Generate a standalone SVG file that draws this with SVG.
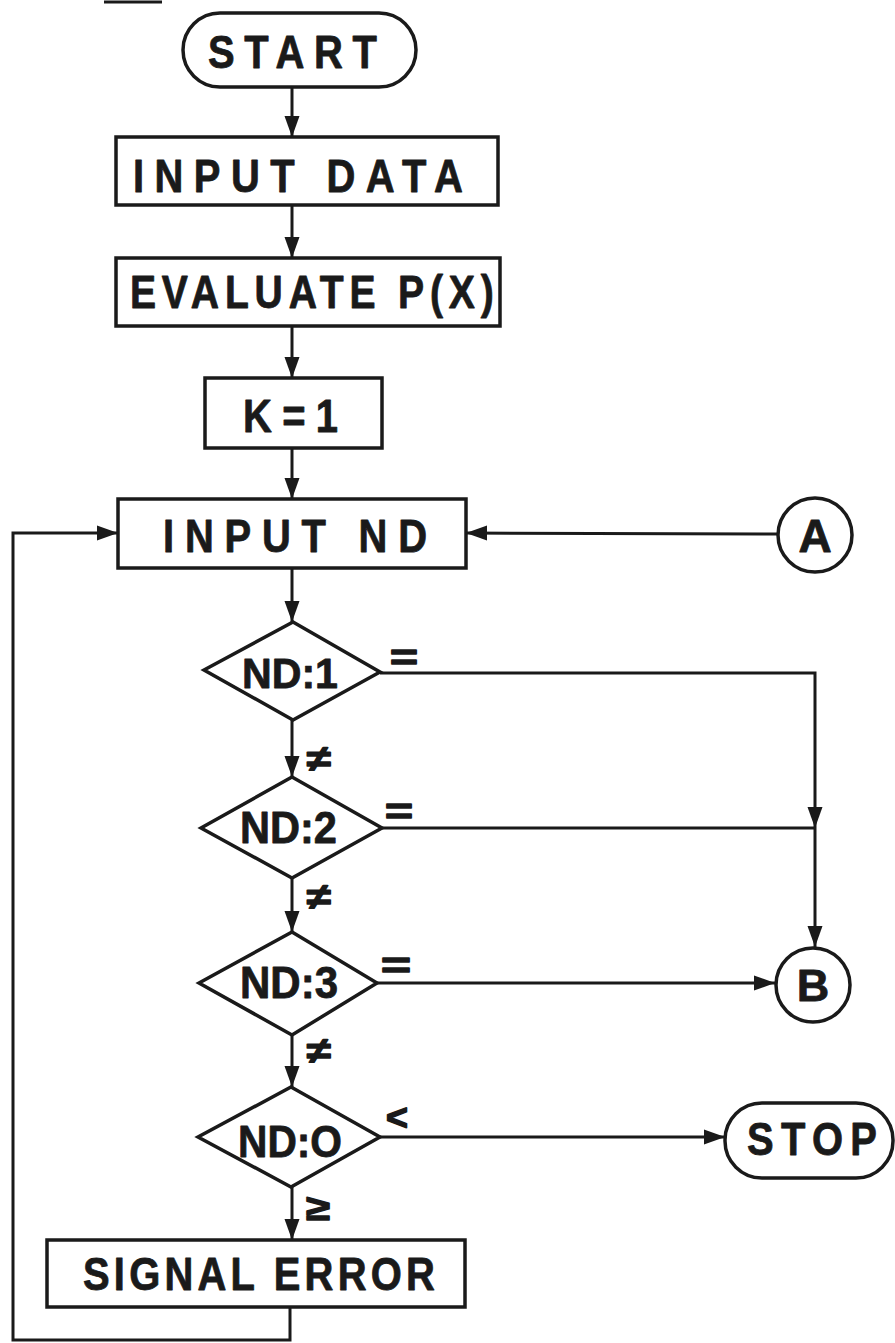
<svg xmlns="http://www.w3.org/2000/svg" width="895" height="1343" viewBox="0 0 895 1343">
<style>
.s{fill:#fff;stroke:#1a1a1a;stroke-width:3.5}
.t{font-family:"Liberation Sans",Arial,sans-serif;font-weight:bold;fill:#1a1a1a;stroke:#1a1a1a;stroke-width:0.8;stroke-linejoin:round}
.n{transform:scale(0.85,1)}
.c{fill:none;stroke:#1a1a1a;stroke-width:3}
.l{font-family:"Liberation Sans",Arial,sans-serif;font-weight:bold;fill:#1a1a1a;stroke:#1a1a1a;stroke-width:1.5;stroke-linejoin:round;font-size:36px}
</style>
<defs>
<marker id="ah" markerUnits="userSpaceOnUse" markerWidth="24" markerHeight="18" refX="21" refY="9" orient="auto">
<path d="M0,1.5 L21,9 L0,16.5 Z" fill="#1a1a1a"/>
</marker>
</defs>
<rect width="895" height="1343" fill="#fff"/>
<line x1="104" y1="2" x2="162" y2="2" stroke="#1a1a1a" stroke-width="3"/>
<g id="connectors">
<line class="c" x1="292" y1="87" x2="292" y2="137" marker-end="url(#ah)"/>
<line class="c" x1="292" y1="205" x2="292" y2="258" marker-end="url(#ah)"/>
<line class="c" x1="292" y1="326" x2="292" y2="378" marker-end="url(#ah)"/>
<line class="c" x1="292" y1="448" x2="292" y2="499" marker-end="url(#ah)"/>
<line class="c" x1="292" y1="568" x2="292" y2="622" marker-end="url(#ah)"/>
<line class="c" x1="292" y1="720" x2="292" y2="777" marker-end="url(#ah)"/>
<line class="c" x1="292" y1="878" x2="292" y2="932" marker-end="url(#ah)"/>
<line class="c" x1="292" y1="1035" x2="292" y2="1087" marker-end="url(#ah)"/>
<line class="c" x1="292" y1="1187" x2="292" y2="1240" marker-end="url(#ah)"/>
<polyline class="c" points="290,1307 290,1340 13,1340 13,533 118,533" marker-end="url(#ah)"/>
<line class="c" x1="778" y1="534" x2="466" y2="533" marker-end="url(#ah)"/>
<polyline class="c" points="380,673 815,673 815,828" marker-end="url(#ah)"/>
<line class="c" x1="382" y1="828" x2="815" y2="828"/>
<line class="c" x1="815" y1="828" x2="815" y2="947" marker-end="url(#ah)"/>
<line class="c" x1="377" y1="983" x2="775" y2="983" marker-end="url(#ah)"/>
<line class="c" x1="380" y1="1137" x2="725" y2="1137" marker-end="url(#ah)"/>
<text class="l" x="390" y="670" textLength="28" lengthAdjust="spacingAndGlyphs">=</text>
<text class="l" x="307" y="771" textLength="24" lengthAdjust="spacingAndGlyphs">≠</text>
<text class="l" x="385" y="824" textLength="28" lengthAdjust="spacingAndGlyphs">=</text>
<text class="l" x="307" y="909" textLength="24" lengthAdjust="spacingAndGlyphs">≠</text>
<text class="l" x="381" y="978" textLength="30" lengthAdjust="spacingAndGlyphs">=</text>
<text class="l" x="307" y="1063" textLength="24" lengthAdjust="spacingAndGlyphs">≠</text>
<text class="l" x="386" y="1130" textLength="22" lengthAdjust="spacingAndGlyphs">&lt;</text>
<text class="l" x="306" y="1220" textLength="24" lengthAdjust="spacingAndGlyphs">≥</text>
</g>
<g id="start">
<rect class="s" x="183" y="13" width="233" height="74" rx="37"/>
<text class="t n" x="244.7" y="68" font-size="47" textLength="198.8" lengthAdjust="spacing">START</text>
</g>
<g id="input-data">
<rect class="s" x="116" y="137" width="382" height="68"/>
<text class="t n" x="156.5" y="192" font-size="47" textLength="388" lengthAdjust="spacing">INPUT DATA</text>
</g>
<g id="evaluate">
<rect class="s" x="116" y="258" width="384" height="68"/>
<text class="t n" x="152.9" y="308" font-size="46" textLength="428" lengthAdjust="spacing">EVALUATE P(X)</text>
</g>
<g id="k1">
<rect class="s" x="205" y="378" width="177" height="70"/>
<text class="t n" x="285.9" y="432" font-size="47" textLength="111.8" lengthAdjust="spacing">K=1</text>
</g>
<g id="input-nd">
<rect class="s" x="118" y="499" width="348" height="69"/>
<text class="t n" x="191.8" y="552" font-size="47" textLength="310.6" lengthAdjust="spacing">INPUT ND</text>
</g>
<g id="nd1">
<polygon class="s" points="293,622 380,672 293,720 204,670"/>
<text class="t" x="242" y="688" font-size="42" textLength="96" lengthAdjust="spacingAndGlyphs">ND:1</text>
</g>
<g id="nd2">
<polygon class="s" points="292,777 382,828 292,878 201,828"/>
<text class="t" x="240" y="843" font-size="44" textLength="97" lengthAdjust="spacingAndGlyphs">ND:2</text>
</g>
<g id="nd3">
<polygon class="s" points="292,932 377,983 292,1035 199,983"/>
<text class="t" x="240" y="998" font-size="44" textLength="98" lengthAdjust="spacingAndGlyphs">ND:3</text>
</g>
<g id="nd0">
<polygon class="s" points="291,1087 380,1137 291,1187 198,1137"/>
<text class="t" x="238" y="1157" font-size="44" textLength="104" lengthAdjust="spacingAndGlyphs">ND:O</text>
</g>
<g id="signal-error">
<rect class="s" x="47" y="1240" width="418" height="67"/>
<text class="t n" x="97.6" y="1290" font-size="47" textLength="414" lengthAdjust="spacing">SIGNAL ERROR</text>
</g>
<g id="a">
<circle class="s" cx="815" cy="535" r="37"/>
<text class="t" x="815" y="552" font-size="46" text-anchor="middle">A</text>
</g>
<g id="b">
<circle class="s" cx="813" cy="985" r="37"/>
<text class="t" x="813" y="1001" font-size="45" text-anchor="middle">B</text>
</g>
<g id="stop">
<rect class="s" x="725" y="1103" width="168" height="75" rx="37"/>
<text class="t n" x="878.8" y="1155" font-size="47" textLength="152.9" lengthAdjust="spacing">STOP</text>
</g>
</svg>
